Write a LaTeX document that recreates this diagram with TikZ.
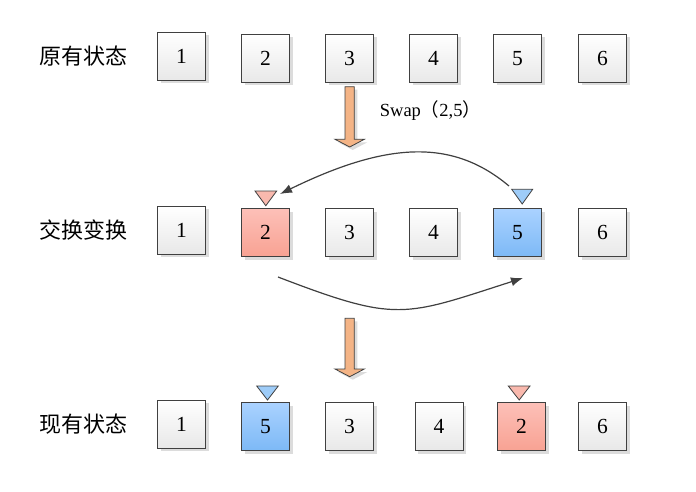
\documentclass[tikz,border=0pt]{standalone}
\usepackage{fontspec}
\setmainfont{Liberation Serif}
\newfontfamily\cjk{Noto Sans CJK SC}
\usetikzlibrary{arrows.meta,shadows}
\definecolor{edge}{HTML}{404040}
\definecolor{boxbot}{HTML}{E8E8E8}
\definecolor{shadowc}{HTML}{DCDCDC}
\definecolor{pinktop}{HTML}{FDC0B8}
\definecolor{pinkbot}{HTML}{F8A293}
\definecolor{bluetop}{HTML}{AAD2FF}
\definecolor{bluebot}{HTML}{7DB9F6}
\definecolor{pinktri}{HTML}{F9B9AE}
\definecolor{bluetri}{HTML}{9ECCF8}
\definecolor{orange}{HTML}{F4B486}
\newcommand\blockarrow[2]{% #1 = top y, #2 = tip y, centre x = 349.7
  \fill[shadowc] (348,#1+3) -- (357.3,#1+3) -- (357.3,#2-4.7) -- (367.3,#2-4.7) -- (352.7,#2+3) -- (338,#2-4.7) -- (348,#2-4.7) -- cycle;
  \draw[edge, line width=0.8pt, fill=orange] (345,#1) -- (354.3,#1) -- (354.3,#2-7.7) -- (364.3,#2-7.7) -- (349.7,#2) -- (335,#2-7.7) -- (345,#2-7.7) -- cycle;
}
\begin{document}
\begin{tikzpicture}[x=1pt,y=-1pt,
  box/.style={draw=edge, line width=0.9pt, minimum size=48pt, inner sep=0pt,
    font=\fontsize{21.5}{21.5}\selectfont, top color=white, bottom color=boxbot,
    drop shadow={shadow xshift=3pt, shadow yshift=-3pt, fill=shadowc, opacity=1}},
  redbox/.style={box, top color=pinktop, bottom color=pinkbot},
  bluebox/.style={box, top color=bluetop, bottom color=bluebot},
  lab/.style={font=\cjk\fontsize{22}{22}\selectfont, inner sep=0pt},
  tri/.style={draw=edge, line width=0.8pt, line join=miter},
  conn/.style={draw=edge, line width=1.2pt, -{Latex[length=12pt,width=9pt]}},
]
\useasboundingbox[fill=white] (0,0) rectangle (696,492);

% labels
\node[lab] (la) at (83.5,56) {原有状态};
\node[lab] (lb) at (83.5,230) {交换变换};
\node[lab] (lc) at (83.5,424) {现有状态};

% row 1
\node[box] (a1) at (181.5,56.5) {1};
\node[box] (a2) at (265.5,58.5) {2};
\node[box] (a3) at (349.5,58.5) {3};
\node[box] (a4) at (433.5,58.5) {4};
\node[box] (a5) at (517.5,58.5) {5};
\node[box] (a6) at (602.5,58.5) {6};

% row 2
\node[box] (b1) at (181.5,230) {1};
\node[redbox] (b2) at (265.5,232.5) {2};
\node[box] (b3) at (349.5,232.5) {3};
\node[box] (b4) at (433.5,232.5) {4};
\node[bluebox] (b5) at (517.5,232.5) {5};
\node[box] (b6) at (602.5,232.5) {6};

% row 3
\node[box] (c1) at (181.5,424) {1};
\node[bluebox] (c2) at (265.5,426.5) {5};
\node[box] (c3) at (349.5,426.5) {3};
\node[box] (c4) at (439,426.5) {4};
\node[redbox] (c5) at (521.5,426.5) {2};
\node[box] (c6) at (602.5,426.5) {6};

% triangles
\draw[tri, fill=pinktri] (255,191) -- (276.7,191) -- (265.8,205.7) -- cycle;
\draw[tri, fill=bluetri] (511.7,189.3) -- (532.7,189.3) -- (522.2,204) -- cycle;
\draw[tri, fill=bluetri] (256.7,386) -- (278.3,386) -- (267.5,400) -- cycle;
\draw[tri, fill=pinktri] (508.3,386) -- (530,386) -- (519.2,400) -- cycle;

% block arrows
\blockarrow{86.7}{147}
\blockarrow{318.3}{376.7}

% swap label
\node[font=\fontsize{18.5}{18.5}\selectfont, inner sep=0pt] (sw) at (430.5,111) {Swap{\cjk （}2,5{\cjk ）}};

% curved connectors
\coordinate (t0) at (509,186);
\coordinate (t1) at (280,194);
\coordinate (u0) at (278,277);
\coordinate (u1) at (523,278);
\draw[conn] (t0) .. controls (454,139.8) and (390,140.2) .. (t1);
\draw[conn] (u0) .. controls (398,323) and (403,316.5) .. (u1);
\end{tikzpicture}
\end{document}
